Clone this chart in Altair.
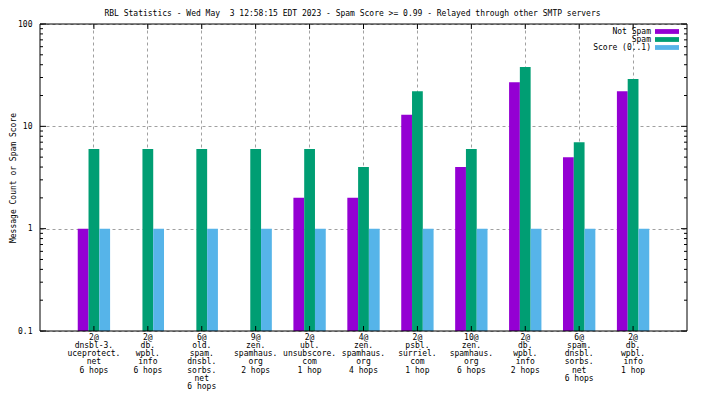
import altair as alt
import pandas as pd

FONT = "DejaVu Sans Mono"

CATEGORIES = [
    "2@|dnsbl-3.|uceprotect.|net|6 hops",
    "2@|db.|wpbl.|info|6 hops",
    "6@|old.|spam.|dnsbl.|sorbs.|net|6 hops",
    "9@|zen.|spamhaus.|org|2 hops",
    "2@|ubl.|unsubscore.|com|1 hop",
    "4@|zen.|spamhaus.|org|4 hops",
    "2@|psbl.|surriel.|com|1 hop",
    "10@|zen.|spamhaus.|org|6 hops",
    "2@|db.|wpbl.|info|2 hops",
    "6@|spam.|dnsbl.|sorbs.|net|6 hops",
    "2@|db.|wpbl.|info|1 hop",
]
NOT_SPAM = [1, None, None, None, 2, 2, 13, 4, 27, 5, 22]
SPAM = [6, 6, 6, 6, 6, 4, 22, 6, 38, 7, 29]
SCORE = [1, 1, 1, 1, 1, 1, 1, 1, 1, 1, 1]
SERIES = ["Not Spam", "Spam", "Score (0..1)"]
COLORS = ["#9400d3", "#009e73", "#56b4e9"]

Y_LABELS = [0.1, 1, 10, 100]
Y_MINOR = [0.2, 0.3, 0.4, 0.5, 0.6, 0.7, 0.8, 0.9,
           2, 3, 4, 5, 6, 7, 8, 9,
           20, 30, 40, 50, 60, 70, 80, 90]

TITLE = "RBL Statistics - Wed May \u00a03 12:58:15 EDT 2023 - Spam Score >= 0.99 - Relayed through other SMTP servers"

W, H = 647, 307

rows = []
for i, c in enumerate(CATEGORIES):
    for s, vals in zip(SERIES, [NOT_SPAM, SPAM, SCORE]):
        if vals[i] is not None:
            rows.append({"cat": c, "series": s, "value": vals[i]})
df = pd.DataFrame(rows)

YSCALE = alt.Scale(type="log", domain=[0.1, 100], nice=False)
XSCALE = alt.Scale(type="band", domain=CATEGORIES, paddingInner=0, paddingOuter=0.5)

XAXIS = alt.Axis(
    title=None, labelExpr="split(datum.value, '|')", labelAngle=0,
    labelBaseline="top", labelPadding=2, labelLineHeight=8.3,
    ticks=False, domain=False, grid=True, gridDash=[3, 3],
    gridColor="#a0a0a0", bandPosition=0.5, labelFont=FONT,
    labelFontSize=8, labelColor="black")
YAXIS = alt.Axis(
    title="Message Count or Spam Score", values=Y_LABELS, format="~g",
    ticks=False, domain=False, labelPadding=8, labelFlush=False,
    labelOverlap=False, grid=True, gridDash=[3, 3], gridColor="#a0a0a0",
    labelFont=FONT, labelFontSize=8, labelColor="black",
    titleFont=FONT, titleFontSize=8, titleFontWeight="normal",
    titleColor="black", titleAngle=270, titleX=-27, titleY=H / 2,
    titleBaseline="middle", titleAlign="center")

bars = alt.Chart(df).mark_bar().encode(
    x=alt.X("cat:N", scale=XSCALE, axis=XAXIS),
    xOffset=alt.XOffset("series:N", scale=alt.Scale(domain=SERIES, paddingInner=0, paddingOuter=1)),
    y=alt.Y("value:Q", scale=YSCALE, axis=YAXIS),
    y2=alt.Y2Datum(0.1),
    color=alt.Color("series:N", scale=alt.Scale(domain=SERIES, range=COLORS),
                    legend=alt.Legend(
                        title=None, orient="none", legendX=623, legendY=3.5,
                        padding=0,
                        symbolType="M-3,-0.6H3V0.6H-3Z", symbolSize=64,
                        symbolStrokeWidth=0, symbolOpacity=1,
                        labelAlign="right", labelOffset={"expr": "-20"},
                        labelFont=FONT, labelFontSize=8, labelColor="black",
                        rowPadding=0)),
)

ymaj = pd.DataFrame({"v": Y_LABELS})
ymin = pd.DataFrame({"v": Y_MINOR})
xt = pd.DataFrame({"cat": CATEGORIES})

def yticks(data, x0, x1):
    return alt.Chart(data).mark_rule(color="black", strokeWidth=1).encode(
        y=alt.Y("v:Q", scale=YSCALE, axis=YAXIS),
        x=alt.value(x0), x2=alt.value(x1))

def xticks(y0, y1):
    return alt.Chart(xt).mark_rule(color="black", strokeWidth=1).encode(
        x=alt.X("cat:N", scale=XSCALE, axis=XAXIS),
        y=alt.value(y0), y2=alt.value(y1))

frame = alt.Chart(pd.DataFrame({"a": [0]})).mark_rect(
    fillOpacity=0, stroke="black", strokeWidth=1).encode(
    x=alt.value(0), x2=alt.value(W), y=alt.value(0), y2=alt.value(H))

chart = alt.layer(
    bars,
    yticks(ymaj, 0, 6), yticks(ymaj, W, W - 6),
    yticks(ymin, 0, 3), yticks(ymin, W, W - 3),
    xticks(H, H - 5), xticks(0, 5),
    frame,
).properties(
    width=W, height=H,
    title=alt.TitleParams(text=TITLE, font=FONT, fontSize=8, fontWeight="normal",
                          color="black", anchor="middle", offset=2, dx=-11),
    autosize=alt.AutoSizeParams(type="none"),
    padding={"left": 32, "top": 16, "right": 9, "bottom": 64},
).configure_view(stroke="transparent")

chart.save("out.html", embed_options={"renderer": "svg", "actions": False})
